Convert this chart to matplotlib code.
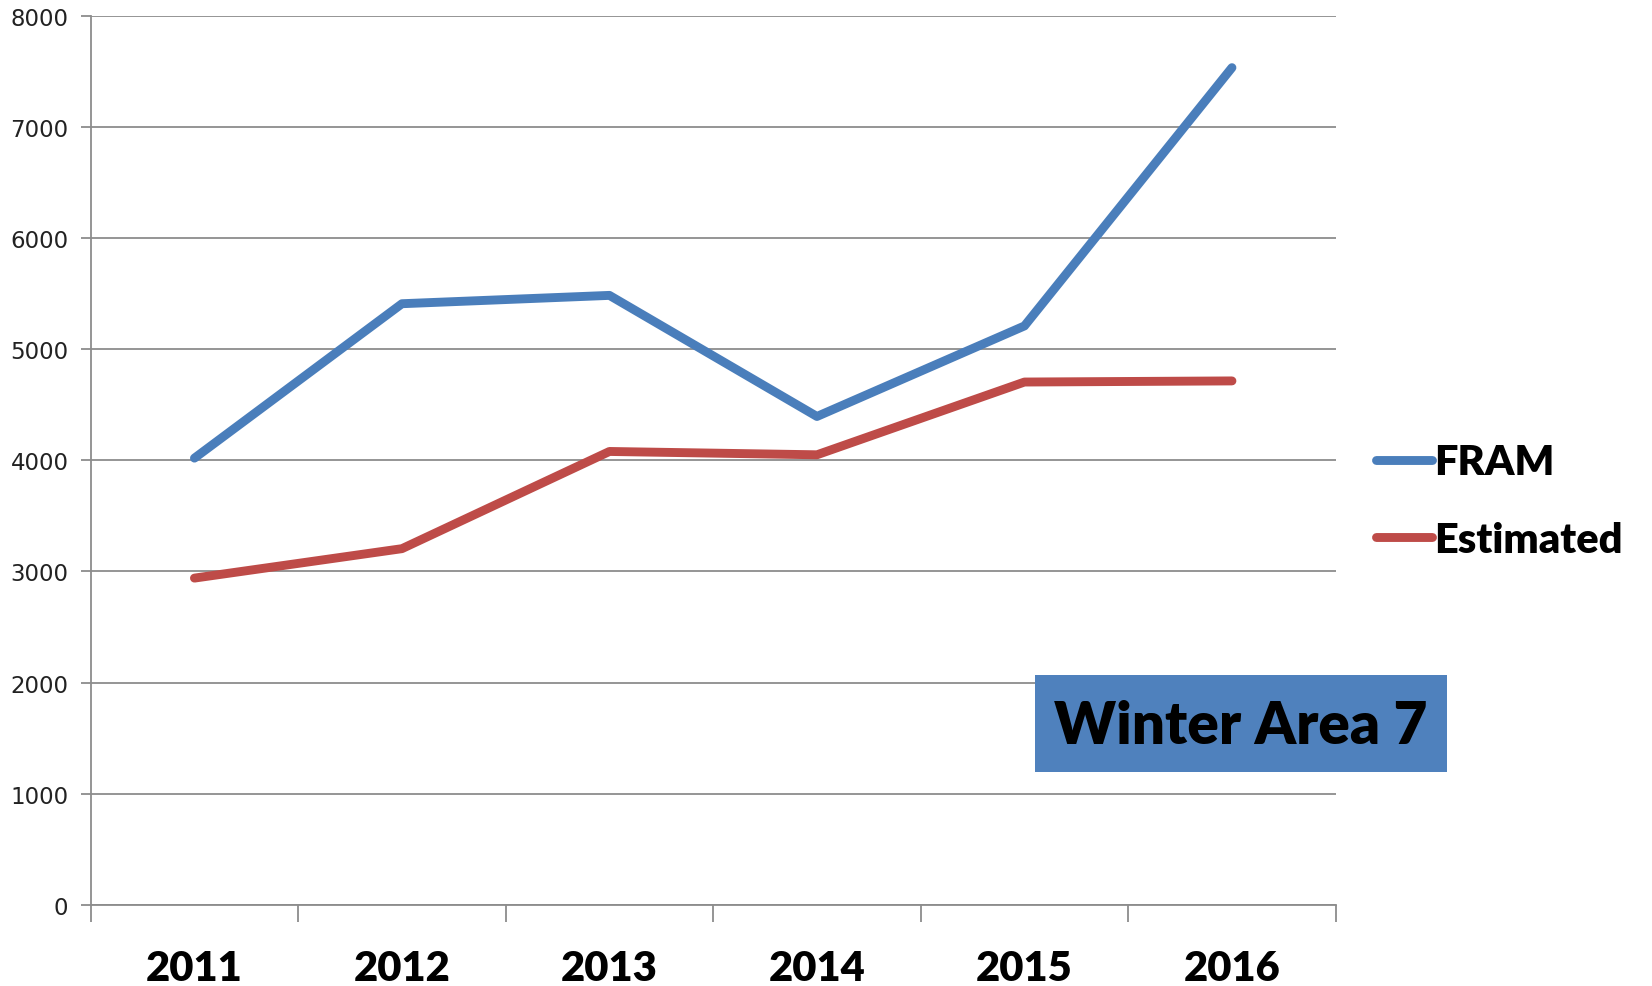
import matplotlib.pyplot as plt
import matplotlib.patches as mpatches
import numpy as np

# data
years = ["2011", "2012", "2013", "2014", "2015", "2016"]
fram = [4020, 5410, 5485, 4395, 5210, 7535]
estimated = [2940, 3205, 4080, 4050, 4705, 4715]

W, H = 1652, 987
fig = plt.figure(figsize=(W / 100, H / 100), dpi=100)
ax = fig.add_axes([90.7 / W, 1 - 905.7 / H, (1335.7 - 90.7) / W, (905.7 - 17) / H])

x = np.arange(len(years))
ax.plot(x, fram, color="#4A7EBB", lw=6.4, solid_capstyle="round", solid_joinstyle="round", label="FRAM")
ax.plot(x, estimated, color="#BE4B48", lw=6.4, solid_capstyle="round", solid_joinstyle="round", label="Estimated")

ax.set_xlim(-0.5, len(years) - 0.5)
ax.set_ylim(0, 8000)
ax.set_yticks(np.arange(0, 8001, 1000))
ax.yaxis.grid(True, color="#8C8C8C", lw=1.3)
ax.set_axisbelow(True)

for s in ["top", "right"]:
    ax.spines[s].set_visible(False)
ax.spines["left"].set_color("#8C8C8C")
ax.spines["left"].set_linewidth(1.3)
ax.spines["bottom"].set_color("#8C8C8C")
ax.spines["bottom"].set_linewidth(1.3)

ax.tick_params(axis="y", length=7, width=1.3, color="#8C8C8C", labelsize=16.5, pad=9,
               labelcolor="#222222")
for lab in ax.get_yticklabels():
    lab.set_family("DejaVu Sans")

ax.set_xticks(x)
ax.set_xticklabels(years, fontsize=30, fontweight="heavy", family="Lato")
ax.tick_params(axis="x", which="major", length=0, pad=32)
ax.set_xticks(np.arange(-0.5, len(years)), minor=True)
ax.tick_params(axis="x", which="minor", length=12, width=1.3, color="#8C8C8C")

leg = fig.legend(loc="center left", bbox_to_anchor=(1338 / W, 1 - 502 / H), frameon=False,
                 handlelength=1.35, handletextpad=0.05, labelspacing=0.95,
                 prop={"family": "Lato", "weight": "heavy", "size": 30})

# title box
fig.patches.append(mpatches.Rectangle((1035 / W, 1 - 773 / H), 412 / W, 97 / H,
                                      transform=fig.transFigure, facecolor="#4F81BD",
                                      edgecolor="none", zorder=5))
fig.text(1241 / W, 1 - 726 / H, "Winter Area 7", ha="center", va="center",
         fontsize=42, fontweight="heavy", family="Lato", zorder=6)

fig.savefig("out.png", dpi=100)
